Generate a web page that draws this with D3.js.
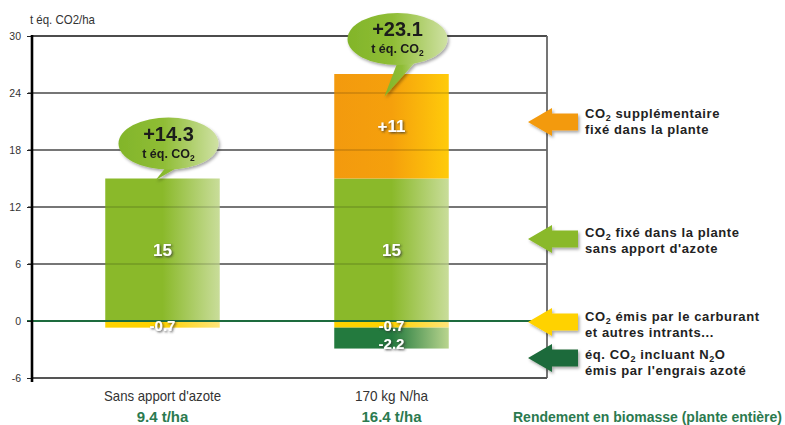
<!DOCTYPE html>
<html lang="fr">
<head>
<meta charset="UTF-8" />
<title>Bilan CO2</title>
<script src="https://d3js.org/d3.v7.min.js"></script>
<style>
  body { margin: 0; background: #fff; }
  svg { display: block; }
  .narrow { font-family: "Liberation Sans", Arial, sans-serif; }
  .legend { font-family: "Liberation Sans", Arial, sans-serif; font-weight: bold; font-size: 13px; letter-spacing: 0.6px; fill: #222; }
  .val { font-family: "Liberation Sans", Arial, sans-serif; font-weight: 700; fill: #fff; }
  .bubble text { font-family: "Liberation Sans", Arial, sans-serif; font-weight: 700; fill: #1a1a1a; }
</style>
</head>
<body>
<svg id="chart" width="785" height="425"></svg>
<script>
// data
const categories = ["Sans apport d'azote", "170 kg N/ha"];
const yields = ["9.4 t/ha", "16.4 t/ha"];
const fixedBase = [15, 15];          // CO2 fixé sans apport d'azote
const fixedExtra = [0, 11];          // CO2 supplémentaire
const fuelEmis = [-0.7, -0.7];       // carburant et intrants
const n2oEmis = [0, -2.2];           // N2O engrais
const totals = [14.3, 23.1];
const yTicks = [-6, 0, 6, 12, 18, 24, 30];

const legendLines = [
  ["CO_2_ supplémentaire", "fixé dans la plante"],
  ["CO_2_  fixé dans la plante", "sans apport d'azote"],
  ["CO_2_ émis par le carburant", "et autres intrants..."],
  ["éq. CO_2_ incluant N_2_O", "émis par l'engrais azoté"]
];
const legendKeys = ["extra", "base", "fuel", "n2o"];

// colours
const colors = {
  base: ["#8ab92a", "#8ab92a", "#c9dd9a"],
  extra: ["#f39a0e", "#f5a00c", "#ffcb0a"],
  fuel: ["#ffd200", "#ffd200", "#ffe47a"],
  n2o: ["#237a3e", "#237a3e", "#b9d58e"]
};
const arrowColors = { extra: "#f39a0e", base: "#8ab92a", fuel: "#ffd200", n2o: "#1f6b3a" };

// layout
const plot = { left: 32, right: 547, top: 36, bottom: 378 };
const legendArrowY = [122, 239, 322, 358];
const legendTextY = [118, 237, 321, 359];
const catLabelWidth = [117, 73];

const svg = d3.select("#chart");
const defs = svg.append("defs");

Object.entries(colors).forEach(([k, c]) => {
  const g = defs.append("linearGradient").attr("id", "grad-" + k)
    .attr("x1", "0%").attr("x2", "100%").attr("y1", "0%").attr("y2", "0%");
  g.append("stop").attr("offset", "0%").attr("stop-color", c[0]);
  g.append("stop").attr("offset", "50%").attr("stop-color", c[1]);
  g.append("stop").attr("offset", "100%").attr("stop-color", c[2]);
});
const bg = defs.append("linearGradient").attr("id", "grad-bubble")
  .attr("x1", "0%").attr("x2", "100%");
bg.append("stop").attr("offset", "0%").attr("stop-color", "#82b52a");
bg.append("stop").attr("offset", "45%").attr("stop-color", "#8fbd35");
bg.append("stop").attr("offset", "100%").attr("stop-color", "#cfe1a3");

const sh = defs.append("filter").attr("id", "txtShadow").attr("x", "-20%").attr("y", "-20%").attr("width", "150%").attr("height", "150%");
sh.append("feDropShadow").attr("dx", 1.2).attr("dy", 1.2).attr("stdDeviation", 0.8)
  .attr("flood-color", "#333").attr("flood-opacity", 0.85);
const bsh = defs.append("filter").attr("id", "boxShadow").attr("x", "-20%").attr("y", "-20%").attr("width", "150%").attr("height", "160%");
bsh.append("feDropShadow").attr("dx", 1.5).attr("dy", 2).attr("stdDeviation", 1.8)
  .attr("flood-color", "#000").attr("flood-opacity", 0.35);

const x = d3.scaleBand().domain(categories).range([48, 506])
  .paddingInner(0.5).paddingOuter(0.25);
const y = d3.scaleLinear().domain([-6, 30]).range([plot.bottom, plot.top]);

// gridlines behind bars
const gridVals = yTicks.filter(d => d > 0 && d < 30);
svg.append("g").selectAll("line").data(gridVals).join("line")
  .attr("x1", plot.left - 4).attr("x2", plot.right)
  .attr("y1", d => y(d)).attr("y2", d => y(d))
  .attr("stroke", "#111").attr("stroke-width", 1.2);

// stacked segments
const segs = [];
categories.forEach((c, i) => {
  segs.push({ cat: c, key: "base", y0: 0, y1: fixedBase[i], label: String(fixedBase[i]) });
  if (fixedExtra[i]) segs.push({ cat: c, key: "extra", y0: fixedBase[i], y1: fixedBase[i] + fixedExtra[i], label: "+" + fixedExtra[i] });
  segs.push({ cat: c, key: "fuel", y0: 0, y1: fuelEmis[i], label: String(fuelEmis[i]) });
  if (n2oEmis[i]) segs.push({ cat: c, key: "n2o", y0: fuelEmis[i], y1: fuelEmis[i] + n2oEmis[i], label: String(n2oEmis[i]) });
});

svg.append("g").selectAll("rect").data(segs).join("rect")
  .attr("x", d => x(d.cat)).attr("width", x.bandwidth())
  .attr("y", d => y(Math.max(d.y0, d.y1)))
  .attr("height", d => Math.abs(y(d.y0) - y(d.y1)))
  .attr("fill", d => `url(#grad-${d.key})`);

// gridlines faintly over bars
svg.append("g").selectAll("line").data(gridVals).join("line")
  .attr("x1", plot.left).attr("x2", plot.right)
  .attr("y1", d => y(d)).attr("y2", d => y(d))
  .attr("stroke", "#000").attr("stroke-opacity", 0.25).attr("stroke-width", 1.2);

// frame
svg.append("line").attr("x1", plot.left).attr("x2", plot.right).attr("y1", plot.top).attr("y2", plot.top)
  .attr("stroke", "#111").attr("stroke-width", 1.3);
svg.append("line").attr("x1", plot.right).attr("x2", plot.right).attr("y1", plot.top).attr("y2", plot.bottom)
  .attr("stroke", "#666").attr("stroke-width", 1.8);
svg.append("line").attr("x1", plot.left).attr("x2", plot.right).attr("y1", plot.bottom).attr("y2", plot.bottom)
  .attr("stroke", "#555").attr("stroke-width", 2);

// zero line
svg.append("line").attr("x1", plot.left - 5).attr("x2", plot.right)
  .attr("y1", y(0)).attr("y2", y(0))
  .attr("stroke", "#1d6b3e").attr("stroke-width", 2.2);

// y axis
const yAxis = d3.axisLeft(y).tickValues(yTicks).tickSize(5).tickPadding(6);
const ya = svg.append("g").attr("transform", `translate(${plot.left},0)`).call(yAxis);
ya.select(".domain").remove();
ya.selectAll(".tick line").attr("stroke", "#222");
ya.selectAll(".tick text").attr("class", "narrow").attr("font-size", 10.5).attr("fill", "#333")
  .text(d => String(d));
svg.append("line").attr("x1", plot.left).attr("x2", plot.left)
  .attr("y1", plot.top - 1).attr("y2", plot.bottom + 4)
  .attr("stroke", "#000").attr("stroke-width", 2.6);

svg.append("text").attr("class", "narrow").attr("x", 30).attr("y", 24)
  .attr("font-size", 13).attr("fill", "#333")
  .attr("textLength", 65).attr("lengthAdjust", "spacingAndGlyphs")
  .text("t éq. CO2/ha");

// value labels
svg.append("g").selectAll("text").data(segs).join("text")
  .attr("class", "val")
  .attr("x", d => x(d.cat) + x.bandwidth() / 2)
  .attr("y", d => {
    if (d.key === "fuel") return y(0) + 10;
    if (d.key === "n2o") return y(d.y1) + 0.5;
    return y((d.y0 + d.y1) / 2) + 6;
  })
  .attr("text-anchor", "middle")
  .attr("font-size", d => (d.key === "fuel" || d.key === "n2o") ? 15 : 17)
  .attr("filter", "url(#txtShadow)")
  .text(d => d.label);

// speech bubbles with totals
const bubbles = svg.append("g").selectAll("g").data(categories).join("g").attr("class", "bubble")
  .attr("filter", "url(#boxShadow)");
bubbles.each(function (c, i) {
  const g = d3.select(this);
  const top = y(fixedBase[i] + fixedExtra[i]);
  const cx = x(c) + x.bandwidth() / 2 + 6;
  const cy = top - 35;
  const tipX = cx - 13, tipY = y(totals[i]) - 5;
  g.append("path")
    .attr("d", `M${cx + 2},${cy + 18} L${tipX},${tipY} L${cx + 26},${cy + 14} Z`)
    .attr("fill", "url(#grad-bubble)");
  g.append("ellipse").attr("cx", cx).attr("cy", cy).attr("rx", 50).attr("ry", 26)
    .attr("fill", "url(#grad-bubble)");
  g.append("text").attr("x", cx).attr("y", cy - 3).attr("text-anchor", "middle")
    .attr("font-size", 20).text("+" + totals[i]);
  const t = g.append("text").attr("x", cx).attr("y", cy + 14).attr("text-anchor", "middle")
    .attr("font-size", 12.5);
  t.append("tspan").text("t éq. CO");
  t.append("tspan").attr("font-size", 8.5).attr("dy", 3).text("2");
});

// category labels
const cl = svg.append("g").selectAll("g").data(categories).join("g");
cl.append("text").attr("class", "narrow")
  .attr("x", d => x(d) + x.bandwidth() / 2).attr("y", 401)
  .attr("text-anchor", "middle").attr("font-size", 14.5).attr("fill", "#333")
  .attr("textLength", (d, i) => catLabelWidth[i]).attr("lengthAdjust", "spacingAndGlyphs")
  .text(d => d);
cl.append("text")
  .attr("x", d => x(d) + x.bandwidth() / 2).attr("y", 422)
  .attr("text-anchor", "middle").attr("font-size", 15).attr("font-weight", "bold")
  .attr("font-family", "'Liberation Sans', Arial, sans-serif").attr("fill", "#2b7a4f")
  .text((d, i) => yields[i]);

svg.append("text").attr("class", "narrow").attr("x", 513).attr("y", 422)
  .attr("font-size", 14).attr("font-weight", "bold").attr("fill", "#2b7a4f")
  .attr("textLength", 269).attr("lengthAdjust", "spacingAndGlyphs")
  .text("Rendement en biomasse (plante entière)");

// legend arrows
const tipX = 528, tailX = 578, headLen = 24, headH = 14, shaftH = 8.5;
const leg = svg.append("g").selectAll("g").data(legendKeys).join("g");
leg.append("path")
  .attr("d", (d, i) => {
    const cy = legendArrowY[i];
    return `M${tipX},${cy} L${tipX + headLen},${cy - headH} L${tipX + headLen},${cy - shaftH}` +
      ` L${tailX},${cy - shaftH} L${tailX},${cy + shaftH} L${tipX + headLen},${cy + shaftH}` +
      ` L${tipX + headLen},${cy + headH} Z`;
  })
  .attr("fill", d => arrowColors[d])
  .attr("filter", "url(#boxShadow)");

leg.each(function (d, i) {
  const g = d3.select(this);
  legendLines[i].forEach((line, j) => {
    const t = g.append("text").attr("class", "legend").attr("x", 585)
      .attr("y", legendTextY[i] + j * 16);
    line.split("_").forEach((part, k) => {
      if (k % 2 === 1) {
        t.append("tspan").attr("font-size", 9).attr("dy", 2.5).text(part);
      } else {
        const s = t.append("tspan").text(part);
        if (k > 0) s.attr("dy", -2.5);
      }
    });
  });
});
</script>
</body>
</html>
